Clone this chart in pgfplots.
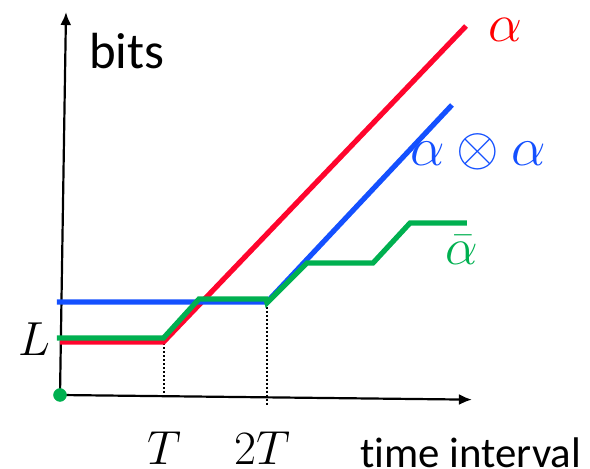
\RequirePackage{fix-cm}
\documentclass[border=0pt]{standalone}
\usepackage{fontspec}
\usepackage{pgfplots}
\pgfplotsset{compat=1.18}
\usetikzlibrary{arrows.meta}
\newfontfamily\calibri[Ligatures={NoCommon,NoContextual}]{Carlito}
\definecolor{cred}{RGB}{255,5,45}
\definecolor{cblue}{RGB}{20,80,255}
\definecolor{cgreen}{RGB}{0,176,80}
\begin{document}
\begin{tikzpicture}
\begin{axis}[
  scale only axis, width=590bp, height=469bp,
  xmin=-0.5797, xmax=5.1208, ymin=-0.7150, ymax=3.8164,
  axis lines=none, clip=false,
]
% axes
\addplot[black, line width=2.2bp, -{Latex[length=13bp,width=11bp]}] coordinates {(0,0) (0.058,3.70)};
\addplot[black, line width=2.2bp, -{Latex[length=13bp,width=11bp]}] coordinates {(0,0) (3.98,-0.045)};
% dotted guides
\addplot[black, line width=2bp, dotted] coordinates {(1.0,0.50) (1.0,0.02)};
\addplot[black, line width=2bp, dotted] coordinates {(2.0,0.89) (2.0,-0.106)};
% red alpha
\addplot[cred, line width=5.2bp] coordinates {(0,0.512) (1.0,0.512) (3.923,3.565)};
% blue alpha otimes alpha
\addplot[cblue, line width=5.2bp] coordinates {(-0.03,0.899) (2.0,0.899) (3.787,2.802)};
% green alpha bar
\addplot[cgreen, line width=5.2bp] coordinates {(-0.03,0.551) (1.0,0.551) (1.343,0.928) (1.99,0.928) (2.0,0.89) (2.386,1.275) (3.024,1.275) (3.382,1.662) (3.932,1.662)};
% origin dot
\addplot[cgreen, only marks, mark=*, mark size=6.5bp] coordinates {(0,0)};
% labels
\node[anchor=base west, inner sep=0pt, font=\calibri\fontsize{51}{55}\selectfont] at (axis cs:0.280,3.159) {bits};
\node[anchor=base west, inner sep=0pt, font=\calibri\fontsize{43}{48}\selectfont] at (axis cs:2.899,-0.696) {time interval};
\node[inner sep=0pt, font=\fontsize{48}{50}\selectfont] at (axis cs:1.005,-0.512) {$T$};
\node[inner sep=0pt, font=\fontsize{48}{50}\selectfont] at (axis cs:1.952,-0.512) {$2T$};
\node[inner sep=0pt, font=\fontsize{48}{50}\selectfont] at (axis cs:-0.251,0.541) {$L$};
\node[inner sep=0pt, text=red, font=\fontsize{54}{58}\selectfont] at (axis cs:4.300,3.527) {$\alpha$};
\node[inner sep=0pt, text=cblue, font=\fontsize{55}{58}\selectfont] at (axis cs:4.039,2.348) {$\alpha\otimes\alpha$};
\node[inner sep=0pt, text=cgreen, font=\fontsize{52}{56}\selectfont] at (axis cs:3.884,1.40) {$\bar{\alpha}$};
\end{axis}
\pgfresetboundingbox
\path (current axis.south west) rectangle (current axis.north east);
\end{tikzpicture}
\end{document}
